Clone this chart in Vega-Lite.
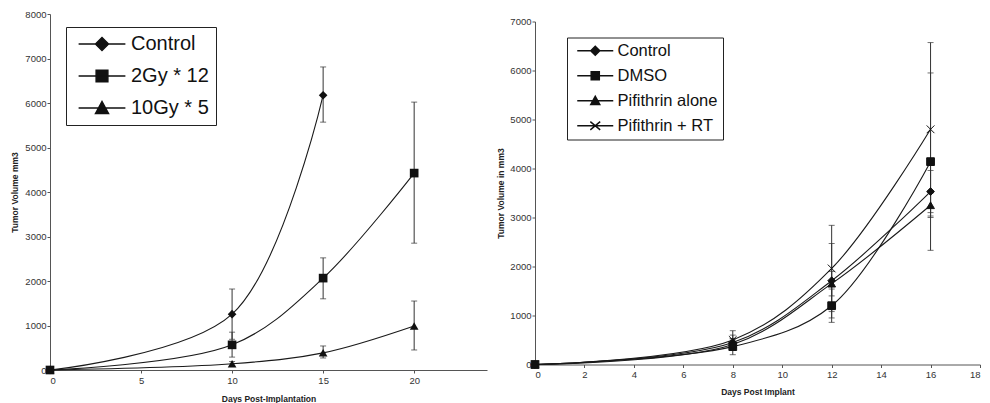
{
  "$schema": "https://vega.github.io/schema/vega-lite/v6.json",
  "background": "white",
  "padding": {"left": 10, "top": 9, "right": 2, "bottom": 2},
  "spacing": 9,
  "center": true,
  "resolve": {"scale": {"shape": "independent"}, "legend": {"shape": "independent"}},
  "config": {
    "view": {"stroke": null},
    "axis": {
      "grid": false,
      "domainColor": "#555",
      "tickColor": "#555",
      "tickSize": 3,
      "labelColor": "#333",
      "labelFont": "Liberation Sans",
      "labelFontSize": 9.5,
      "titleFont": "Liberation Sans",
      "titleFontSize": 8.5,
      "titleFontWeight": "bold",
      "titleColor": "#222",
      "format": "d"
    },
    "axisY": {"labelPadding": 1},
    "legend": {
      "labelFont": "Liberation Sans",
      "labelColor": "#111",
      "strokeColor": "#222",
      "fillColor": "white"
    }
  },
  "datasets": {
    "left": [
      {"group": "Control", "day": 0, "vol": 0},
      {"group": "Control", "day": 10, "vol": 1255, "lo": 690, "hi": 1820},
      {"group": "Control", "day": 15, "vol": 6175, "lo": 5570, "hi": 6810},
      {"group": "2Gy * 12", "day": 0, "vol": 0},
      {"group": "2Gy * 12", "day": 10, "vol": 565, "lo": 290, "hi": 850},
      {"group": "2Gy * 12", "day": 15, "vol": 2065, "lo": 1600, "hi": 2520},
      {"group": "2Gy * 12", "day": 20, "vol": 4425, "lo": 2850, "hi": 6020},
      {"group": "10Gy * 5", "day": 0, "vol": 0},
      {"group": "10Gy * 5", "day": 10, "vol": 140, "lo": 90, "hi": 190},
      {"group": "10Gy * 5", "day": 15, "vol": 385, "lo": 270, "hi": 540},
      {"group": "10Gy * 5", "day": 20, "vol": 990, "lo": 450, "hi": 1550}
    ],
    "right": [
      {"group": "Control", "day": 0, "vol": 0},
      {"group": "Control", "day": 8, "vol": 450, "lo": 300, "hi": 600},
      {"group": "Control", "day": 12, "vol": 1710, "lo": 950, "hi": 2470},
      {"group": "Control", "day": 16, "vol": 3530, "lo": 3100, "hi": 3960},
      {"group": "DMSO", "day": 0, "vol": 0},
      {"group": "DMSO", "day": 8, "vol": 365, "lo": 200, "hi": 530},
      {"group": "DMSO", "day": 12, "vol": 1200, "lo": 860, "hi": 1540},
      {"group": "DMSO", "day": 16, "vol": 4140, "lo": 2330, "hi": 5950},
      {"group": "Pifithrin alone", "day": 0, "vol": 0},
      {"group": "Pifithrin alone", "day": 8, "vol": 410, "lo": 300, "hi": 520},
      {"group": "Pifithrin alone", "day": 12, "vol": 1650, "lo": 1400, "hi": 1900},
      {"group": "Pifithrin alone", "day": 16, "vol": 3250, "lo": 3000, "hi": 3500},
      {"group": "Pifithrin + RT", "day": 0, "vol": 0},
      {"group": "Pifithrin + RT", "day": 8, "vol": 500, "lo": 310, "hi": 690},
      {"group": "Pifithrin + RT", "day": 12, "vol": 1960, "lo": 1080, "hi": 2840},
      {"group": "Pifithrin + RT", "day": 16, "vol": 4800, "lo": 3030, "hi": 6570}
    ]
  },
  "hconcat": [
    {
      "width": 437,
      "height": 356,
      "data": {"name": "left"},
      "resolve": {"scale": {"shape": "independent"}, "legend": {"shape": "independent"}},
      "encoding": {
        "x": {"field": "day", "type": "quantitative", "scale": {"domain": [0, 24], "nice": false},
              "axis": {"values": [0, 5, 10, 15, 20], "title": "Days Post-Implantation", "titlePadding": 10}},
        "y": {"field": "vol", "type": "quantitative", "scale": {"domain": [0, 8000], "nice": false},
              "axis": {"values": [0, 1000, 2000, 3000, 4000, 5000, 6000, 7000, 8000], "title": "Tumor Volume mm3", "titlePadding": 5}}
      },
      "layer": [
        {"mark": {"type": "line", "interpolate": "catmull-rom", "color": "#1a1a1a", "strokeWidth": 1.1},
         "encoding": {"detail": {"field": "group"}}},
        {"transform": [{"filter": "isValid(datum.lo)"}],
         "mark": {"type": "rule", "color": "#333", "strokeWidth": 1},
         "encoding": {"y": {"field": "lo", "type": "quantitative"}, "y2": {"field": "hi"}}},
        {"transform": [{"filter": "isValid(datum.lo)"}],
         "mark": {"type": "tick", "orient": "horizontal", "color": "#333", "size": 6, "thickness": 1},
         "encoding": {"y": {"field": "lo", "type": "quantitative"}}},
        {"transform": [{"filter": "isValid(datum.lo)"}],
         "mark": {"type": "tick", "orient": "horizontal", "color": "#333", "size": 6, "thickness": 1},
         "encoding": {"y": {"field": "hi", "type": "quantitative"}}},
        {"mark": {"type": "point", "filled": true, "color": "#111", "opacity": 1, "size": 75},
         "encoding": {
           "shape": {"field": "group", "type": "nominal",
             "scale": {"domain": ["Control", "2Gy * 12", "10Gy * 5"], "range": ["diamond", "square", "triangle-up"]},
             "legend": null}
         }},
        {"transform": [{"filter": "false"}],
         "mark": {"type": "point", "filled": true, "color": "#111", "stroke": "#111", "strokeWidth": 1.5, "opacity": 1, "size": 169},
         "encoding": {
           "shape": {"field": "group", "type": "nominal",
             "scale": {"domain": ["Control", "2Gy * 12", "10Gy * 5"], "range": ["M-3.6,0L3.6,0M-1,0L0,-1L1,0L0,1Z", "M-3.6,0L3.6,0M-0.9,-0.9L0.9,-0.9L0.9,0.9L-0.9,0.9Z", "M-3.6,0L3.6,0M-1,0.85L0,-1L1,0.85Z"]},
             "legend": {
               "title": null, "orient": "none", "legendX": 16, "legendY": 13,
               "padding": 7,
               "labelFontSize": 20, "rowPadding": 12,
               "symbolSize": 169, "symbolOffset": 19, "labelOffset": 19,
               "encode": {
                 "legend": {"update": {"strokeWidth": {"value": 1.6}}},
                 "symbols": {"update": {"stroke": {"value": "#111"}, "strokeWidth": {"value": 1.6}, "fill": {"value": "#111"}}}
               }
             }}
         }}
      ]
    },
    {
      "width": 445,
      "height": 343,
      "data": {"name": "right"},
      "resolve": {"scale": {"shape": "independent"}, "legend": {"shape": "independent"}},
      "encoding": {
        "x": {"field": "day", "type": "quantitative", "scale": {"domain": [0, 18], "nice": false},
              "axis": {"values": [0, 2, 4, 6, 8, 10, 12, 14, 16, 18], "title": "Days Post Implant", "titlePadding": 8}},
        "y": {"field": "vol", "type": "quantitative", "scale": {"domain": [0, 7000], "nice": false},
              "axis": {"values": [0, 1000, 2000, 3000, 4000, 5000, 6000, 7000], "title": "Tumor Volume in mm3", "titlePadding": 4}}
      },
      "layer": [
        {"mark": {"type": "line", "interpolate": "catmull-rom", "color": "#1a1a1a", "strokeWidth": 1.1},
         "encoding": {"detail": {"field": "group"}}},
        {"transform": [{"filter": "isValid(datum.lo)"}],
         "mark": {"type": "rule", "color": "#333", "strokeWidth": 1},
         "encoding": {"y": {"field": "lo", "type": "quantitative"}, "y2": {"field": "hi"}}},
        {"transform": [{"filter": "isValid(datum.lo)"}],
         "mark": {"type": "tick", "orient": "horizontal", "color": "#333", "size": 6, "thickness": 1},
         "encoding": {"y": {"field": "lo", "type": "quantitative"}}},
        {"transform": [{"filter": "isValid(datum.lo)"}],
         "mark": {"type": "tick", "orient": "horizontal", "color": "#333", "size": 6, "thickness": 1},
         "encoding": {"y": {"field": "hi", "type": "quantitative"}}},
        {"mark": {"type": "point", "filled": true, "color": "#111", "stroke": "#111", "strokeWidth": 1, "opacity": 1, "size": 60},
         "encoding": {
           "shape": {"field": "group", "type": "nominal",
             "scale": {"domain": ["Control", "DMSO", "Pifithrin alone", "Pifithrin + RT"], "range": ["diamond", "square", "triangle-up", "M-1,-1L1,1M-1,1L1,-1"]},
             "legend": null}
         }},
        {"transform": [{"filter": "false"}],
         "mark": {"type": "point", "filled": true, "color": "#111", "stroke": "#111", "strokeWidth": 1.3, "opacity": 1, "size": 81},
         "encoding": {
           "shape": {"field": "group", "type": "nominal",
             "scale": {"domain": ["Control", "DMSO", "Pifithrin alone", "Pifithrin + RT"], "range": ["M-4,0L4,0M-1,0L0,-1L1,0L0,1Z", "M-4,0L4,0M-0.9,-0.9L0.9,-0.9L0.9,0.9L-0.9,0.9Z", "M-4,0L4,0M-1,0.85L0,-1L1,0.85Z", "M-4,0L4,0M-1.1,-0.9L1.1,0.9M-1.1,0.9L1.1,-0.9"]},
             "legend": {
               "title": null, "orient": "none", "legendX": 32, "legendY": 16,
               "padding": 5,
               "labelFontSize": 16.5, "rowPadding": 8,
               "symbolSize": 81, "symbolOffset": 15, "labelOffset": 14,
               "encode": {
                 "legend": {"update": {"strokeWidth": {"value": 1.2}}},
                 "symbols": {"update": {"stroke": {"value": "#111"}, "strokeWidth": {"value": 1.3}, "fill": {"value": "#111"}}}
               }
             }}
         }}
      ]
    }
  ]
}
